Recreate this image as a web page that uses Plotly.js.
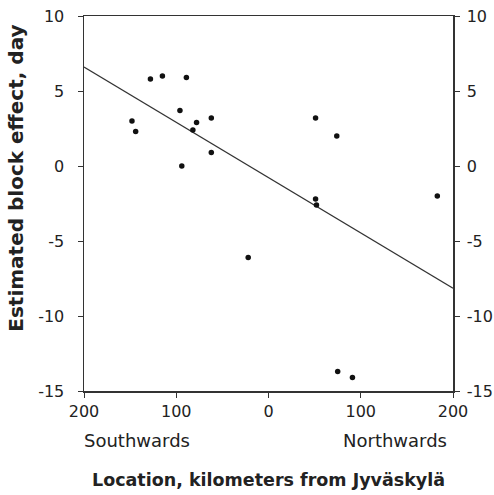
<!DOCTYPE html>
<html><head><meta charset="utf-8">
<script src="https://cdn.plot.ly/plotly-3.0.1.min.js"></script>
<style>body{margin:0;background:#fff}#c{width:494px;height:495px}</style>
</head><body><div id="c"></div>
<script>
// distance from Jyväskylä, km (negative = southwards, positive = northwards)
const locationKm = [-148, -144, -128, -115, -89, -96, -78, -82, -62, -94, -62, 51, 74, 51, 52, 183, -22, 75, 91];
const blockEffect = [3.0, 2.3, 5.8, 6.0, 5.9, 3.7, 2.9, 2.4, 3.2, 0.0, 0.9, 3.2, 2.0, -2.2, -2.6, -2.0, -6.1, -13.7, -14.1];
const fitX = [-200, 200];
const fitY = [6.6, -8.15];
const xTickVals = [-200, -100, 0, 100, 200];
const xTickText = ['200', '100', '0', '100', '200'];
const yTickVals = [-15, -10, -5, 0, 5, 10];
const yTickText = ['-15', '-10', '-5', '0', '5', '10'];

const font = {family: 'DejaVu Sans, sans-serif', size: 16, color: '#222'};
const traces = [
  {x: fitX, y: fitY, mode: 'lines', line: {color: '#333', width: 1.2}, hoverinfo: 'skip'},
  {x: locationKm, y: blockEffect, mode: 'markers', marker: {color: '#111', size: 5.5}},
  {x: fitX, y: fitY, yaxis: 'y2', mode: 'lines', line: {width: 0}, hoverinfo: 'skip'}
];
const axisCommon = {showgrid: false, zeroline: false, showline: true,
  linecolor: '#333', linewidth: 1.5, ticks: 'outside', ticklen: 5, tickcolor: '#333', tickfont: font};
const layout = {
  width: 494, height: 495,
  margin: {l: 84, r: 41, t: 16, b: 104},
  showlegend: false,
  paper_bgcolor: '#fff', plot_bgcolor: '#fff',
  font: font,
  xaxis: Object.assign({range: [-200, 200], tickvals: xTickVals, ticktext: xTickText, mirror: true}, axisCommon),
  yaxis: Object.assign({range: [-15, 10], tickvals: yTickVals, ticktext: yTickText, ticklabelstandoff: 10}, axisCommon),
  yaxis2: Object.assign({range: [-15, 10], tickvals: yTickVals, ticktext: yTickText, overlaying: 'y', side: 'right', ticklabelstandoff: 4}, axisCommon),
  annotations: [
    {text: 'Southwards', xref: 'paper', yref: 'paper', x: 0.144, y: -0.133, xanchor: 'center', yanchor: 'middle', showarrow: false, font: Object.assign({}, font, {size: 18})},
    {text: 'Northwards', xref: 'paper', yref: 'paper', x: 0.843, y: -0.133, xanchor: 'center', yanchor: 'middle', showarrow: false, font: Object.assign({}, font, {size: 18})},
    {text: '<b>Location, kilometers from Jyväskylä</b>', xref: 'paper', yref: 'paper', x: 0.50, y: -0.237, xanchor: 'center', yanchor: 'middle', showarrow: false, font: Object.assign({}, font, {size: 17.5})},
    {text: '<b>Estimated block effect, day</b>', textangle: -90, xref: 'paper', yref: 'paper', x: -0.185, y: 0.568, xanchor: 'center', yanchor: 'middle', showarrow: false, font: Object.assign({}, font, {size: 20})}
  ]
};
Plotly.newPlot('c', traces, layout, {staticPlot: true});
</script></body></html>
